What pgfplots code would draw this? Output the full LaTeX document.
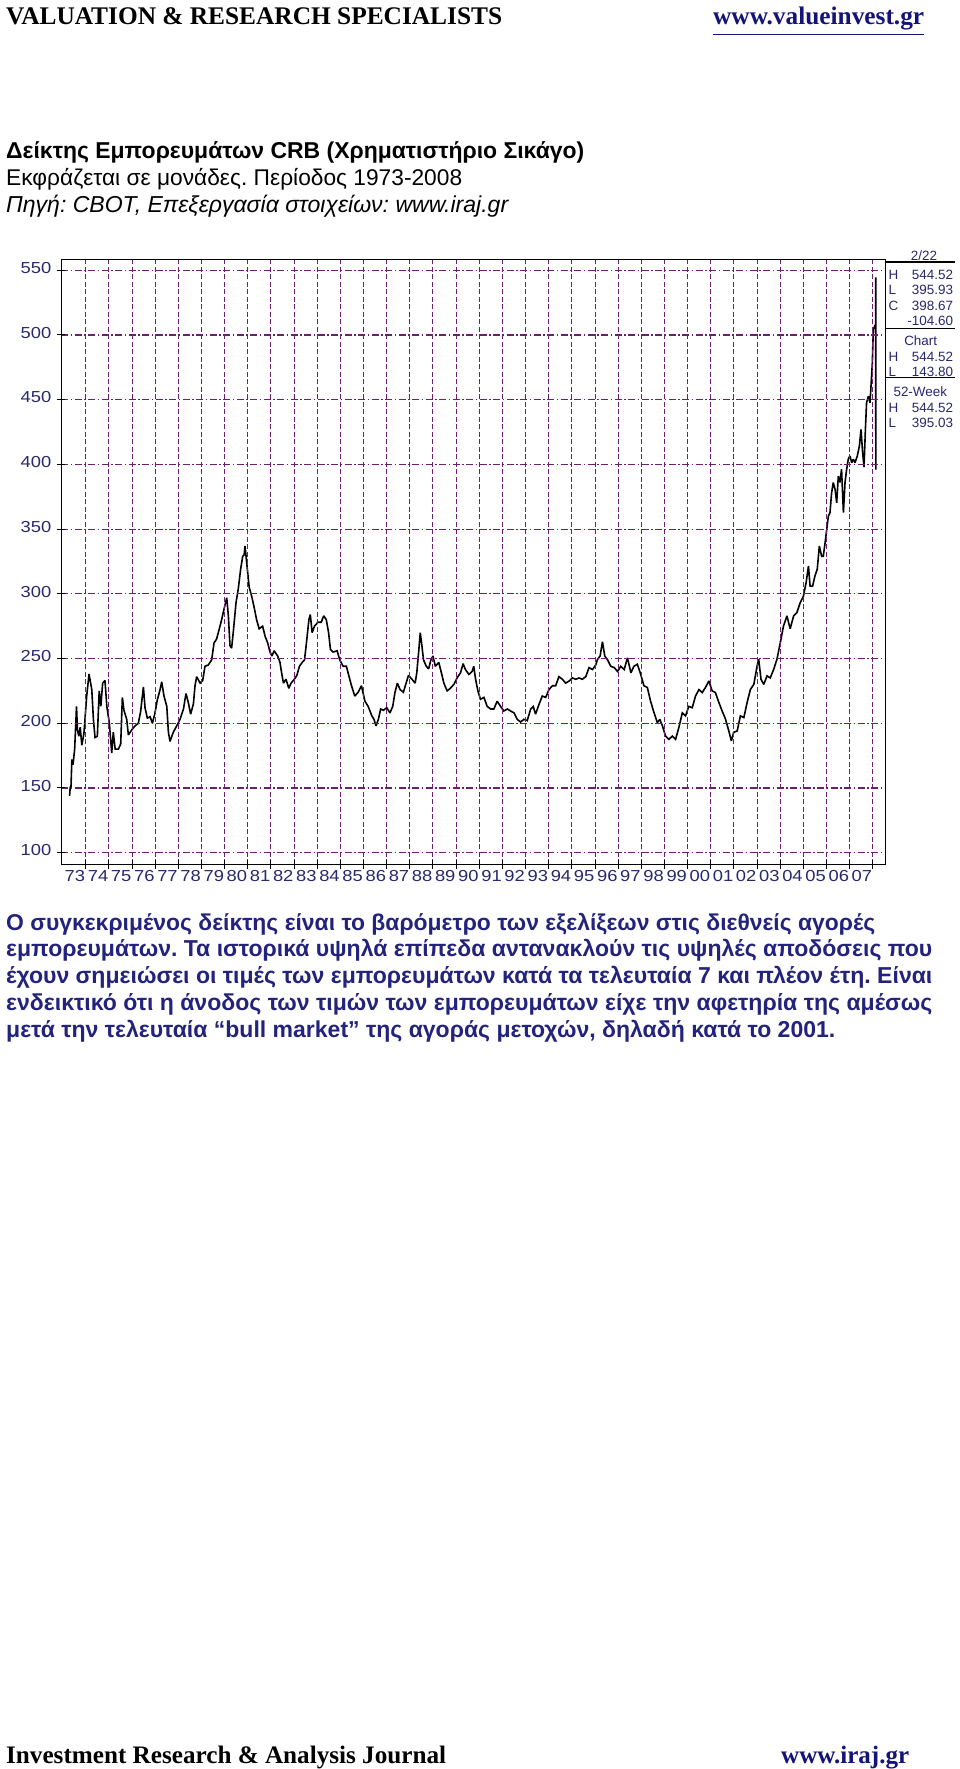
\documentclass[border=0pt]{standalone}
\usepackage{fontspec}
\usepackage{graphicx}
\usepackage{xcolor}
\usepackage{pgfplots}
\pgfplotsset{compat=1.18}
\usepackage{pgfplotstable}
\setmainfont{Liberation Sans}
\newfontfamily\timesfont{Liberation Serif}
\newfontfamily\chartfont[FakeStretch=1.15]{Liberation Sans}
\definecolor{gridc}{RGB}{110,30,110}
\definecolor{navy}{RGB}{40,40,110}
\definecolor{para}{RGB}{35,35,125}
\definecolor{urlc}{RGB}{20,20,120}
\frenchspacing

\pgfplotstableread{
year value
1973.30 143.8
1973.33 151
1973.36 150
1973.40 172
1973.45 168
1973.52 180
1973.60 213
1973.64 195
1973.70 190
1973.76 197
1973.83 183
1973.92 192
1974.04 221
1974.14 238
1974.26 226
1974.33 203
1974.40 189
1974.50 190
1974.58 225
1974.65 213
1974.73 231
1974.83 233
1974.91 213
1975.02 200
1975.12 177
1975.19 193
1975.27 180
1975.41 180
1975.51 184
1975.58 220
1975.65 210
1975.77 203
1975.84 191
1975.99 195
1976.13 198
1976.27 200
1976.37 209
1976.49 228
1976.56 212
1976.66 204
1976.78 205
1976.88 200
1976.99 208
1977.09 218
1977.21 226
1977.28 232
1977.38 221
1977.50 213
1977.57 193
1977.64 186
1977.78 193
1977.93 198
1978.07 203
1978.22 211
1978.33 223
1978.43 216
1978.53 207
1978.65 215
1978.72 229
1978.79 236
1978.94 231
1979.05 233
1979.15 244
1979.29 245
1979.44 249
1979.54 262
1979.65 265
1979.77 273
1979.87 280
1979.97 288
1980.09 297
1980.16 283
1980.23 260
1980.30 258
1980.37 270
1980.49 293
1980.59 304
1980.69 319
1980.78 329
1980.84 330
1980.88 337
1980.93 328
1980.98 319
1981.06 305
1981.17 298
1981.28 289
1981.38 280
1981.49 273
1981.64 275
1981.75 267
1981.86 262
1981.96 255
1982.04 252
1982.14 256
1982.29 252
1982.39 247
1982.46 239
1982.54 231
1982.65 234
1982.77 227
1982.87 231
1983.01 234
1983.12 237
1983.23 244
1983.35 247
1983.45 249
1983.52 260
1983.64 280
1983.70 284
1983.78 270
1983.88 275
1984.03 278
1984.17 278
1984.28 283
1984.39 280
1984.49 270
1984.57 257
1984.68 255
1984.86 256
1984.97 249
1985.12 244
1985.26 244
1985.36 237
1985.48 229
1985.62 221
1985.77 224
1985.91 229
1986.06 217
1986.20 213
1986.35 206
1986.45 203
1986.54 198
1986.64 203
1986.74 211
1986.86 210
1987.00 212
1987.14 208
1987.26 213
1987.36 224
1987.46 231
1987.58 226
1987.72 224
1987.84 231
1987.94 237
1988.09 234
1988.23 231
1988.30 239
1988.38 255
1988.45 270
1988.52 260
1988.59 249
1988.71 244
1988.81 242
1988.91 249
1989.00 252
1989.10 244
1989.25 247
1989.39 237
1989.47 231
1989.61 225
1989.75 227
1989.90 230
1990.04 235
1990.19 239
1990.30 246
1990.40 241.5
1990.55 237.7
1990.69 240
1990.76 244
1990.84 234
1990.94 225
1991.05 218.5
1991.20 220
1991.34 213
1991.49 211
1991.63 211
1991.77 217
1991.92 213
1992.06 209.5
1992.21 211
1992.35 209.5
1992.50 208
1992.64 203
1992.78 201
1992.93 203
1993.07 202
1993.22 211
1993.33 213
1993.43 207
1993.58 214.6
1993.72 221
1993.87 220
1994.01 226
1994.16 229
1994.30 229
1994.44 236
1994.59 234
1994.73 231
1994.88 232.6
1995.02 235
1995.17 234
1995.31 235
1995.45 234
1995.60 236
1995.74 243
1995.89 241.5
1996.03 245
1996.10 249
1996.22 252
1996.32 263
1996.42 252
1996.54 249
1996.68 244
1996.83 243
1996.97 240
1997.11 244
1997.26 241.5
1997.40 250.5
1997.55 239
1997.68 244
1997.83 245.6
1997.97 238
1998.11 229
1998.26 227.6
1998.40 217
1998.55 208
1998.69 200.5
1998.80 203
1998.91 198
1999.05 190
1999.19 187.6
1999.34 190
1999.48 187.6
1999.62 196.6
1999.77 208
1999.91 205.7
2000.05 213
2000.20 212
2000.34 221
2000.49 226
2000.63 223.7
2000.77 227.6
2000.92 232.7
2001.06 225
2001.20 223.7
2001.35 216
2001.49 209.5
2001.64 203
2001.78 194
2001.89 186.3
2001.99 193
2002.14 194
2002.28 205.7
2002.43 204.4
2002.57 216
2002.71 226
2002.86 230
2003.00 244
2003.07 249.5
2003.17 234
2003.29 230
2003.43 236.6
2003.57 235
2003.72 241.8
2003.86 249.5
2004.00 262
2004.14 275
2004.29 283
2004.43 273
2004.58 283
2004.72 285.5
2004.86 293
2005.00 298
2005.12 308.7
2005.22 321.5
2005.29 306
2005.40 306
2005.50 313.8
2005.60 319
2005.69 337
2005.79 329
2005.86 329
2005.94 339.5
2006.01 350
2006.08 360
2006.15 362.7
2006.22 378
2006.29 386
2006.37 380.7
2006.44 370.4
2006.51 391
2006.58 386
2006.65 396.2
2006.73 362.7
2006.80 386
2006.87 396.2
2006.94 404
2007.01 406.5
2007.09 401.3
2007.16 404
2007.23 401.3
2007.33 406.5
2007.42 414.2
2007.49 427
2007.56 409
2007.62 398
2007.68 427
2007.73 447.6
2007.81 452.8
2007.88 447.6
2007.93 463
2007.98 478.5
2008.02 504
2008.08 506.8
2008.12 506
2008.125 544.52
2008.13 395.93
2008.135 398.67
}\crbdata

\begin{document}
\begin{tikzpicture}
\path[use as bounding box] (0,0) rectangle (960bp,-1769bp);
\fill[white] (0,0) rectangle (960bp,-1769bp);

% header
\node[anchor=base west, inner sep=0pt] at (6bp,-25bp)
  {\resizebox{496bp}{!}{\timesfont\bfseries VALUATION \& RESEARCH SPECIALISTS}};
\node[anchor=base west, inner sep=0pt, text=urlc] at (713bp,-25bp)
  {\resizebox{211bp}{!}{\timesfont\bfseries\underline{www.valueinvest.gr}}};

% titles
\node[anchor=base west, inner sep=0pt] at (6bp,-158bp)
  {\resizebox{578bp}{!}{\bfseries Δείκτης Εμπορευμάτων CRB (Χρηματιστήριο Σικάγο)}};
\node[anchor=base west, inner sep=0pt] at (6bp,-185.5bp)
  {\resizebox{456bp}{!}{Εκφράζεται σε μονάδες. Περίοδος 1973-2008}};
\node[anchor=base west, inner sep=0pt] at (6bp,-212.5bp)
  {\resizebox{502bp}{!}{\itshape Πηγή: CBOT, Επεξεργασία στοιχείων: www.iraj.gr}};

\begin{axis}[
  at={(61bp,-864.3bp)}, anchor=south west, scale only axis,
  width=824.3bp, height=605.3bp,
  xmin=1972.93, xmax=2008.54, ymin=91, ymax=558.7,
  axis line style={line width=1bp, black},
  xtick={1974,1975,...,2008},
  xticklabels={73,74,75,76,77,78,79,80,81,82,83,84,85,86,87,88,89,90,91,92,93,94,95,96,97,98,99,00,01,02,03,04,05,06,07},
  ytick={100,150,200,250,300,350,400,450,500,550},
  yticklabels={100,150,200,250,300,350,400,450,500,550},
  xmajorgrids, ymajorgrids,
  x grid style={gridc, line width=1bp, dash pattern=on 5bp off 2.5bp},
  y grid style={gridc, line width=1.1bp, dash pattern=on 7bp off 2.5bp on 1.5bp off 2.5bp},
  tick align=center, major tick length=9bp,
  tick style={black, line width=1bp},
  xtick pos=bottom, ytick pos=left,
  typeset ticklabels with strut,
  xticklabel style={font=\chartfont\fontsize{16}{16}\selectfont, text=navy, anchor=north east, inner sep=0pt, xshift=-0.5bp, yshift=-1bp},
  yticklabel style={font=\chartfont\fontsize{16}{16}\selectfont, text=navy, anchor=east, inner sep=0pt, xshift=-5bp},
  axis on top,
]
\addplot[black, line width=1.6bp, line join=miter, miter limit=2] table[x=year, y=value] {\crbdata};
\end{axis}

% right panel
\begin{scope}[font=\fontsize{13.5}{13.5}\selectfont, text=navy]
\draw[line width=1.2bp, black] (885bp,-262bp) -- (955bp,-262bp);
\draw[line width=1.2bp, black] (885bp,-328.3bp) -- (955bp,-328.3bp);
\draw[line width=1.2bp, black] (885bp,-377.3bp) -- (955bp,-377.3bp);
\node[anchor=base, inner sep=0pt] at (924bp,-260.5bp) {2/22};
\node[anchor=base west, inner sep=0pt] at (888.3bp,-279.3bp) {H};
\node[anchor=base east, inner sep=0pt] at (953.3bp,-279.3bp) {544.52};
\node[anchor=base west, inner sep=0pt] at (888.3bp,-294.3bp) {L};
\node[anchor=base east, inner sep=0pt] at (953.3bp,-294.3bp) {395.93};
\node[anchor=base west, inner sep=0pt] at (888.3bp,-310bp) {C};
\node[anchor=base east, inner sep=0pt] at (953.3bp,-310bp) {398.67};
\node[anchor=base east, inner sep=0pt] at (953.3bp,-325.3bp) {-104.60};
\node[anchor=base, inner sep=0pt] at (920.7bp,-345.3bp) {Chart};
\node[anchor=base west, inner sep=0pt] at (888.3bp,-361.3bp) {H};
\node[anchor=base east, inner sep=0pt] at (953.3bp,-361.3bp) {544.52};
\node[anchor=base west, inner sep=0pt] at (888.3bp,-376bp) {L};
\node[anchor=base east, inner sep=0pt] at (953.3bp,-376bp) {143.80};
\node[anchor=base, inner sep=0pt] at (920.3bp,-396.7bp) {52-Week};
\node[anchor=base west, inner sep=0pt] at (888.3bp,-412bp) {H};
\node[anchor=base east, inner sep=0pt] at (953.3bp,-412bp) {544.52};
\node[anchor=base west, inner sep=0pt] at (888.3bp,-427.3bp) {L};
\node[anchor=base east, inner sep=0pt] at (953.3bp,-427.3bp) {395.03};
\end{scope}

% paragraph
\begin{scope}[text=para]
\node[anchor=base west, inner sep=0pt] at (6bp,-930bp)
  {\resizebox{869bp}{!}{\bfseries Ο συγκεκριμένος δείκτης είναι το βαρόμετρο των εξελίξεων στις διεθνείς αγορές}};
\node[anchor=base west, inner sep=0pt] at (6bp,-956.8bp)
  {\resizebox{926bp}{!}{\bfseries εμπορευμάτων. Τα ιστορικά υψηλά επίπεδα αντανακλούν τις υψηλές αποδόσεις που}};
\node[anchor=base west, inner sep=0pt] at (6bp,-983.6bp)
  {\resizebox{926bp}{!}{\bfseries έχουν σημειώσει οι τιμές των εμπορευμάτων κατά τα τελευταία 7 και πλέον έτη. Είναι}};
\node[anchor=base west, inner sep=0pt] at (6bp,-1010.4bp)
  {\resizebox{926bp}{!}{\bfseries ενδεικτικό ότι η άνοδος των τιμών των εμπορευμάτων είχε την αφετηρία της αμέσως}};
\node[anchor=base west, inner sep=0pt] at (6bp,-1037.2bp)
  {\resizebox{829bp}{!}{\bfseries μετά την τελευταία ``bull market'' της αγοράς μετοχών, δηλαδή κατά το 2001.}};
\end{scope}

% footer
\node[anchor=base west, inner sep=0pt] at (6bp,-1763bp)
  {\resizebox{440bp}{!}{\timesfont\bfseries Investment Research \& Analysis Journal}};
\node[anchor=base west, inner sep=0pt, text=urlc] at (781bp,-1763bp)
  {\resizebox{128bp}{!}{\timesfont\bfseries\underline{www.iraj.gr}}};
\end{tikzpicture}
\end{document}
